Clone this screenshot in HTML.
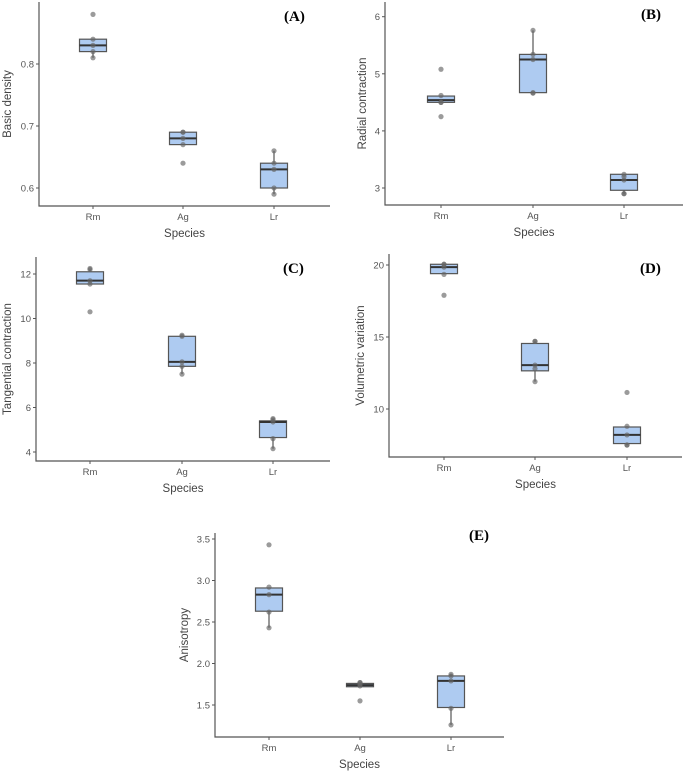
<!DOCTYPE html>
<html><head><meta charset="utf-8"><style>
body{margin:0;background:#fff;}
svg{display:block;font-family:"Liberation Sans",sans-serif;}
</style></head><body>
<svg id="c" width="685" height="773" viewBox="0 0 685 773"></svg>
<script>
const categories=["Rm","Ag","Lr"];
// panel A
const aTicks=[0.6,0.7,0.8];
const aQ1=[0.82,0.67,0.60], aMed=[0.83,0.68,0.63], aQ3=[0.84,0.69,0.64], aLo=[0.81,0.67,0.59], aHi=[0.84,0.69,0.66];
const aPts=[[0.81,0.82,0.83,0.84,0.88],[0.64,0.67,0.68,0.69,0.69],[0.59,0.60,0.63,0.64,0.66]];
// panel B
const bTicks=[3,4,5,6];
const bQ1=[4.50,4.67,2.96], bMed=[4.54,5.25,3.14], bQ3=[4.61,5.34,3.24], bLo=[4.50,4.67,2.90], bHi=[4.61,5.76,3.24];
const bPts=[[4.25,4.50,4.50,4.62,5.08],[4.66,4.67,5.25,5.34,5.76],[2.90,2.90,3.14,3.20,3.24]];
// panel C
const cTicks=[4,6,8,10,12];
const cQ1=[11.55,7.85,4.65], cMed=[11.7,8.05,5.35], cQ3=[12.1,9.2,5.4], cLo=[11.55,7.5,4.15], cHi=[12.2,9.2,5.5];
const cPts=[[10.3,11.55,11.7,12.2,12.25],[7.5,7.85,8.05,9.2,9.25],[4.15,4.6,5.35,5.45,5.5]];
// panel D
const dTicks=[10,15,20];
const dQ1=[19.4,12.65,7.6], dMed=[19.85,13.05,8.2], dQ3=[20.05,14.55,8.75], dLo=[19.35,11.9,7.5], dHi=[20.05,14.7,8.8];
const dPts=[[17.9,19.35,19.85,20.05,20.05],[11.9,12.8,13.05,14.7,14.7],[7.5,7.5,8.2,8.8,11.15]];
// panel E
const eTicks=[1.5,2.0,2.5,3.0,3.5];
const eTickLabels=["1.5","2.0","2.5","3.0","3.5"];
const eQ1=[2.63,1.72,1.47], eMed=[2.83,1.74,1.79], eQ3=[2.91,1.76,1.85], eLo=[2.43,1.72,1.26], eHi=[2.91,1.76,1.87];
const ePts=[[2.43,2.62,2.83,2.92,3.43],[1.55,1.73,1.75,1.77,1.77],[1.26,1.46,1.79,1.85,1.87]];

const svg=document.getElementById('c');
const NS="http://www.w3.org/2000/svg";
function mk(tag,attrs,parent){const e=document.createElementNS(NS,tag);for(const k in attrs)e.setAttribute(k,attrs[k]);(parent||svg).appendChild(e);return e;}

function panel(p){
  const g=mk('g',{});
  
  
  const y=v=>p.y0+(v-p.t0)*(p.y1-p.y0)/(p.t1-p.t0);
  const ax=mk('path',{d:`M${p.ax} ${p.top}V${p.bot}H${p.right}`,stroke:'#555',fill:'none','stroke-width':1.2},g);
  
  
  p.ticks.forEach((t,i)=>{
    mk('line',{x1:p.ax-3,x2:p.ax,y1:y(t),y2:y(t),stroke:'#555'},g);
    const tl=mk('text',{x:p.ax-5,y:y(t)+3.5,'text-anchor':'end','font-size':9.5,fill:'#555'},g);
    tl.textContent=p.labels?p.labels[i]:String(t);
    
    
  });
  categories.forEach((c,i)=>{
    const x=p.cx[i];
    mk('line',{x1:x,x2:x,y1:p.bot,y2:p.bot+3,stroke:'#555'},g);
    const xl=mk('text',{x:x,y:p.bot+14,'text-anchor':'middle','font-size':9.5,fill:'#555'},g);
    xl.textContent=c;
    
    
    mk('line',{x1:x,x2:x,y1:y(p.lo[i]),y2:y(p.q1[i]),stroke:'#555','stroke-width':1.2},g);
    mk('line',{x1:x,x2:x,y1:y(p.q3[i]),y2:y(p.hi[i]),stroke:'#555','stroke-width':1.2},g);
    const b=mk('rect',{x:x-13.5,y:y(p.q3[i]),width:27,height:Math.max(1,y(p.q1[i])-y(p.q3[i])),fill:'#aecbf1',stroke:'#555','stroke-width':1.2},g);
    
    
    mk('line',{x1:x-13.5,x2:x+13.5,y1:y(p.med[i]),y2:y(p.med[i]),stroke:'#333','stroke-width':2},g);
    p.pts[i].forEach(v=>{
      const d=mk('circle',{cx:x,cy:y(v),r:2.6,fill:'#666','fill-opacity':0.65},g);
      
      
    });
  });
  const xt=mk('text',{x:(p.ax+p.right)/2,y:p.bot+31,'text-anchor':'middle','font-size':11.5,fill:'#444'},g);
  xt.textContent='Species';
  
  
  const ty=(p.top+p.bot)/2, tx=p.ax-p.tw;
  const yt=mk('text',{x:tx,y:ty,'text-anchor':'middle','font-size':11.5,fill:'#444',transform:`rotate(-90 ${tx} ${ty})`},g);
  yt.textContent=p.title;
  
  
  const lb=mk('text',{x:p.lx,y:p.ly,'font-size':15,'font-weight':'bold','font-family':'Liberation Serif, serif',fill:'#000'},g);
  lb.textContent='('+p.id+')';
  
  
}
panel({id:'A',title:'Basic density',ticks:aTicks,t0:0.6,y0:188,t1:0.8,y1:64,ax:39,top:2,bot:206,right:330,cx:[93,183,274],q1:aQ1,med:aMed,q3:aQ3,lo:aLo,hi:aHi,pts:aPts,tw:28,lx:284,ly:21});
panel({id:'B',title:'Radial contraction',ticks:bTicks,t0:3,y0:188,t1:6,y1:16.7,ax:385,top:2,bot:205,right:683,cx:[441,533,624],q1:bQ1,med:bMed,q3:bQ3,lo:bLo,hi:bHi,pts:bPts,tw:19,lx:641,ly:19});
panel({id:'C',title:'Tangential contraction',ticks:cTicks,t0:4,y0:452,t1:12,y1:274,ax:36,top:257,bot:461,right:330,cx:[90,182,273],q1:cQ1,med:cMed,q3:cQ3,lo:cLo,hi:cHi,pts:cPts,tw:25,lx:283,ly:273});
panel({id:'D',title:'Volumetric variation',ticks:dTicks,t0:10,y0:409,t1:20,y1:265,ax:389,top:254,bot:457,right:682,cx:[444,535,627],q1:dQ1,med:dMed,q3:dQ3,lo:dLo,hi:dHi,pts:dPts,tw:25,lx:640,ly:273});
panel({id:'E',title:'Anisotropy',ticks:eTicks,labels:eTickLabels,t0:1.5,y0:705,t1:3.5,y1:539,ax:215,top:533,bot:737,right:504,cx:[269,360,451],q1:eQ1,med:eMed,q3:eQ3,lo:eLo,hi:eHi,pts:ePts,tw:27,lx:469,ly:540});
</script>
</body></html>
